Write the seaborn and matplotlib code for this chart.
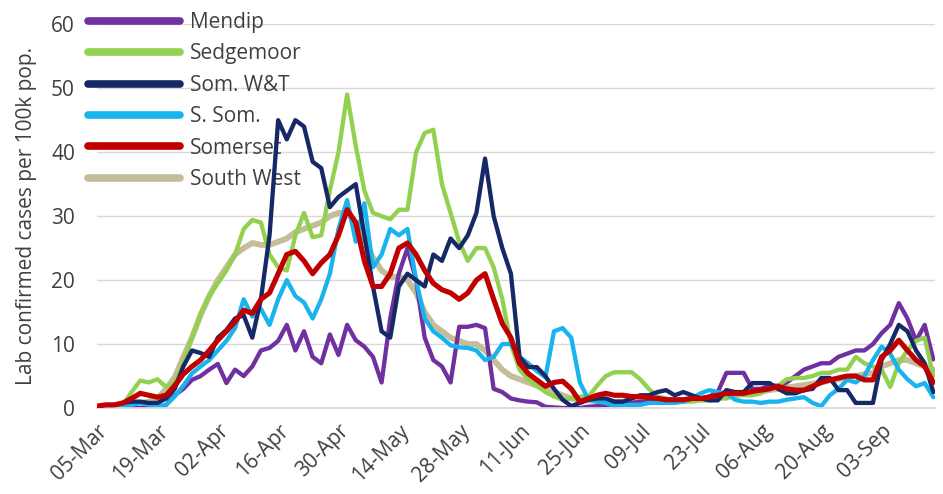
import matplotlib
matplotlib.use("Agg")
import matplotlib.pyplot as plt
import matplotlib.dates as mdates
import pandas as pd
import seaborn as sns

# values read every second day, 05-Mar to 15-Sep 2020
start = "2020-03-05"
step = "2D"

mendip = [0, 0, 0, 0, 0, 0, 0, 0, 0.5, 2,
          3, 4.4, 5, 6, 6.9, 3.9, 6, 5, 6.5, 9,
          9.4, 10.5, 13, 9, 12, 8, 7, 11.5, 8.3, 13,
          10.6, 9.6, 8, 4, 14, 21, 25, 20, 11, 7.5,
          6.5, 4, 12.7, 12.7, 13, 12.5, 3, 2.5, 1.5, 1.2,
          1, 0.9, 0.2, 0.1, 0, 0, 0, 0.2, 0.3, 0.5,
          0.5, 0.5, 0.8, 1, 1, 1, 1, 1.2, 1.2, 1.5,
          1.5, 1.8, 2.5, 5.5, 5.5, 5.5, 3, 3, 3.5, 3.5,
          4, 5, 6, 6.5, 7, 7, 8, 8.5, 9, 9,
          10, 11.7, 13, 16.4, 14, 10.5, 13, 7.6]

sedgemoor = [0, 0, 0, 0.5, 2.5, 4.3, 4, 4.5, 3.3, 4,
             7, 11, 14.8, 17.5, 19.5, 21.5, 24, 28, 29.4, 29,
             24, 22, 21.5, 27, 30.5, 26.7, 27, 34, 40, 49,
             41, 34, 30.5, 30, 29.5, 31, 31, 40, 43, 43.5,
             35, 30.5, 26, 23, 25, 25, 22, 17, 10, 6,
             4.5, 3.5, 2.5, 1.8, 1.3, 1.5, 1.8, 1.8, 3.5, 5,
             5.6, 5.6, 5.6, 4.5, 3, 1.8, 1.5, 1, 1, 1,
             1.2, 1.2, 1.5, 1.5, 2, 2, 2, 2.3, 3, 3.5,
             4.5, 4.7, 4.7, 5, 5.5, 5.5, 6, 6, 8, 7,
             6.5, 6, 3.3, 7, 9, 10.5, 11, 5]

som_wt = [0, 0.3, 0.5, 0.8, 1, 1, 0.8, 0.8, 1.5, 3,
          6.5, 9, 8.6, 8, 11, 12.2, 14, 14.5, 11, 17,
          27, 45, 42, 45, 44, 38.5, 37.5, 31.4, 33, 34,
          35, 27, 19, 12, 11, 19, 21, 20, 19, 24,
          23, 26.5, 25, 27, 30.5, 39, 30, 25, 21, 8,
          6.4, 6.4, 5, 3, 1.3, 0.3, 0.8, 1.3, 1.5, 1.5,
          1, 1, 1.5, 2, 2, 2.5, 2.8, 2, 2.5, 2,
          1.5, 1.2, 1.2, 2.8, 2.5, 2.5, 3.9, 3.9, 3.9, 3,
          2.3, 2.3, 2.8, 3, 4.7, 4.7, 2.8, 2.8, 0.8, 0.8,
          0.8, 7.5, 10, 13, 12, 9, 7, 2.5]

s_som = [0, 0, 0, 0.3, 0.5, 0.8, 0.5, 0.3, 0.5, 1.8,
         3.5, 5.4, 6.5, 7.5, 9, 10.5, 12.5, 17, 14.3, 15.5,
         13, 17, 20, 17.5, 16.5, 14, 17, 21, 28, 32.5,
         26, 32, 22, 24, 28, 27, 28, 20, 14, 12,
         11, 9.8, 9.5, 9.4, 9, 7.5, 8, 10, 10, 8,
         7, 5.8, 4.8, 12, 12.5, 11, 4, 1.3, 1, 0.8,
         0.3, 0.5, 0.5, 0.5, 0.8, 0.8, 0.8, 0.8, 1, 1.5,
         2.3, 2.8, 2.5, 2.3, 1.3, 1, 1, 0.8, 1, 1,
         1.3, 1.5, 1.7, 0.8, 0.3, 2, 3, 4.4, 4, 5,
         7.5, 9.6, 8.5, 6, 4.5, 3.4, 3.9, 1.7]

somerset = [0.3, 0.5, 0.5, 0.8, 1.5, 2.3, 2, 1.7, 2, 3.5,
            5.3, 6.5, 7.5, 9, 10.6, 12, 13.5, 15.3, 14.8, 17,
            18, 21, 24, 24.5, 23, 21, 22.7, 24, 27, 31,
            29, 23, 19, 19, 21, 25, 25.8, 24, 21.5, 19.5,
            18.5, 18, 17, 18, 20, 21, 17, 13.2, 11, 7,
            5.4, 4.4, 3.4, 4, 4.2, 3, 1, 1.5, 2, 2.3,
            2, 2, 1.8, 1.8, 1.6, 1.5, 1.3, 1.3, 1.3, 1.5,
            1.5, 1.7, 2, 2.3, 2.3, 2.3, 2.6, 2.8, 3, 3.4,
            3, 2.8, 2.8, 3.4, 4, 4.4, 4.7, 5, 5, 4.4,
            4.4, 8, 9, 10.6, 9, 7.5, 6.5, 4]

south_west = [0, 0, 0, 0.3, 0.5, 0.8, 1, 1.5, 3, 4.8,
              8, 11, 14.5, 17.5, 20, 22, 24, 25, 25.8, 25.5,
              25.5, 26, 26.5, 27.5, 28, 28.5, 29, 30, 30.5, 30.5,
              29, 26.5, 23.5, 21.5, 20.5, 20.5, 20, 18, 15, 13,
              12, 11, 10.5, 10, 10, 9, 7.5, 6, 5, 4.5,
              4, 3.5, 3, 2.5, 2, 1.5, 1.3, 1.2, 1.1, 1,
              1, 1, 1, 1, 1, 1, 1, 1.1, 1.2, 1.3,
              1.4, 1.5, 1.6, 1.8, 2, 2.2, 2.4, 2.6, 2.8, 3,
              3.2, 3.4, 3.6, 3.8, 4, 4.3, 4.5, 4.8, 5, 5.3,
              5.5, 6.5, 7, 7.5, 7.5, 7, 6.5, 6]

names = ["Mendip", "Sedgemoor", "Som. W&T", "S. Som.", "Somerset", "South West"]
values = [mendip, sedgemoor, som_wt, s_som, somerset, south_west]
colours = ["#7030A0", "#92D050", "#172867", "#19B4EE", "#C00000", "#C4BD97"]
widths = [3.1, 3.1, 3.1, 3.1, 3.7, 4.2]
layers = [2.2, 2.3, 2.5, 2.4, 2.6, 2.0]

dates = pd.date_range(start, periods=len(mendip), freq=step)
df = pd.concat([pd.DataFrame({"date": dates, "value": v, "series": n})
                for n, v in zip(names, values)])

sns.set_theme(style="white")
plt.rcParams["font.family"] = ["Open Sans", "DejaVu Sans"]

fig, ax = plt.subplots(figsize=(9.43, 4.94), dpi=100)
fig.subplots_adjust(left=0.103, right=0.992, top=0.951, bottom=0.174)

for name, col, lw, z in zip(names, colours, widths, layers):
    sns.lineplot(data=df[df["series"] == name], x="date", y="value",
                 color=col, linewidth=lw, label=name, ax=ax, zorder=z)

ax.set_ylim(0, 60)
ax.set_yticks(range(0, 61, 10))
ax.set_xlim(dates[0], dates[-1] + pd.Timedelta(hours=12))
ax.set_xticks(pd.date_range(start, "2020-09-03", freq="14D"))
ax.xaxis.set_major_formatter(mdates.DateFormatter("%d-%b"))
plt.setp(ax.get_xticklabels(), rotation=45, ha="right", rotation_mode="anchor")

ax.grid(axis="y", color="#D9D9D9", linewidth=1)
ax.set_axisbelow(True)
for side in ["left", "right", "top"]:
    ax.spines[side].set_visible(False)
ax.spines["bottom"].set_color("#D9D9D9")
ax.tick_params(axis="x", colors="#404040", labelsize=15, length=4,
               color="#D9D9D9", pad=5)
ax.tick_params(axis="y", colors="#404040", labelsize=15, length=0, pad=16)
ax.set_xlabel("")
ax.set_ylabel("Lab confirmed cases per 100k pop.", fontsize=15, color="#404040")
ax.yaxis.set_label_coords(-0.072, 0.5)

leg = ax.legend(loc="upper left", bbox_to_anchor=(88 / 943, 1 - 12 / 494),
                bbox_transform=fig.transFigure, frameon=False, fontsize=15,
                handlelength=4.4, handletextpad=0.5, labelspacing=0.5,
                borderpad=0, borderaxespad=0)
for line in leg.get_lines():
    line.set_linewidth(5.5)
for t in leg.get_texts():
    t.set_color("#404040")
leg.set_zorder(1.5)

plt.savefig("out.png", dpi=100)
